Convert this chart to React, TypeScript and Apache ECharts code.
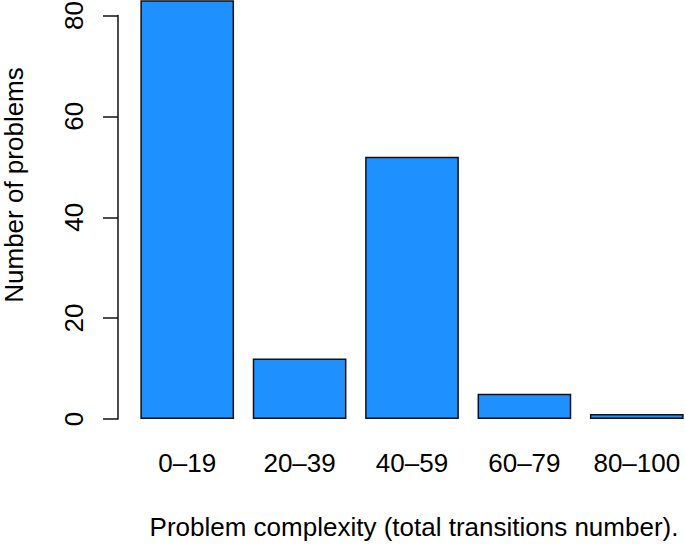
import React, { useEffect, useRef } from "react";
import * as echarts from "echarts";

const categories = ["0–19", "20–39", "40–59", "60–79", "80–100"];
const counts = [83, 12, 52, 5, 1];
const yTicks = [0, 20, 40, 60, 80];
const xTitle = "Problem complexity (total transitions number).";
const yTitle = "Number of problems";

const FONT = "'Liberation Sans', Arial, Helvetica, sans-serif";

export default function App() {
  const ref = useRef<HTMLDivElement>(null);
  useEffect(() => {
    if (!ref.current) return;
    const chart = echarts.init(ref.current, null, { renderer: "svg" });
    chart.setOption({
      animation: false,
      backgroundColor: "#ffffff",
      grid: {
        left: 131,
        width: 562,
        top: 15.5,
        height: 403.5,
        containLabel: false,
        outerBoundsMode: "none",
      },
      xAxis: {
        type: "category",
        data: categories,
        axisLine: { show: false },
        axisTick: { show: false },
        axisLabel: {
          fontSize: 26,
          fontFamily: FONT,
          color: "#000",
          margin: 31,
          interval: 0,
        },
      },
      yAxis: {
        type: "value",
        min: yTicks[0],
        max: yTicks[yTicks.length - 1],
        interval: 20,
        offset: 13,
        splitLine: { show: false },
        axisLine: { show: true, lineStyle: { color: "#111", width: 1.5 } },
        axisTick: { show: true, length: 15, lineStyle: { color: "#111", width: 1.5 } },
        axisLabel: {
          rotate: 90,
          fontSize: 26,
          fontFamily: FONT,
          color: "#000",
          margin: 31,
        },
      },
      series: [
        {
          type: "bar",
          data: counts,
          barWidth: 93.7,
          clip: false,
          itemStyle: { color: "#1E90FF", borderColor: "#111", borderWidth: 1.5 },
        },
      ],
      graphic: [
        {
          type: "text",
          x: 414,
          y: 527,
          style: {
            text: xTitle,
            fontSize: 26,
            fontFamily: FONT,
            fill: "#000",
            align: "center",
            verticalAlign: "middle",
          },
        },
        {
          type: "text",
          x: 14,
          y: 185,
          rotation: Math.PI / 2,
          style: {
            text: yTitle,
            fontSize: 26,
            fontFamily: FONT,
            fill: "#000",
            align: "center",
            verticalAlign: "middle",
          },
        },
      ],
    });
    return () => chart.dispose();
  }, []);
  return (
    <div
      ref={ref}
      style={{ position: "fixed", left: 0, top: 0, width: 685, height: 544 }}
    />
  );
}
